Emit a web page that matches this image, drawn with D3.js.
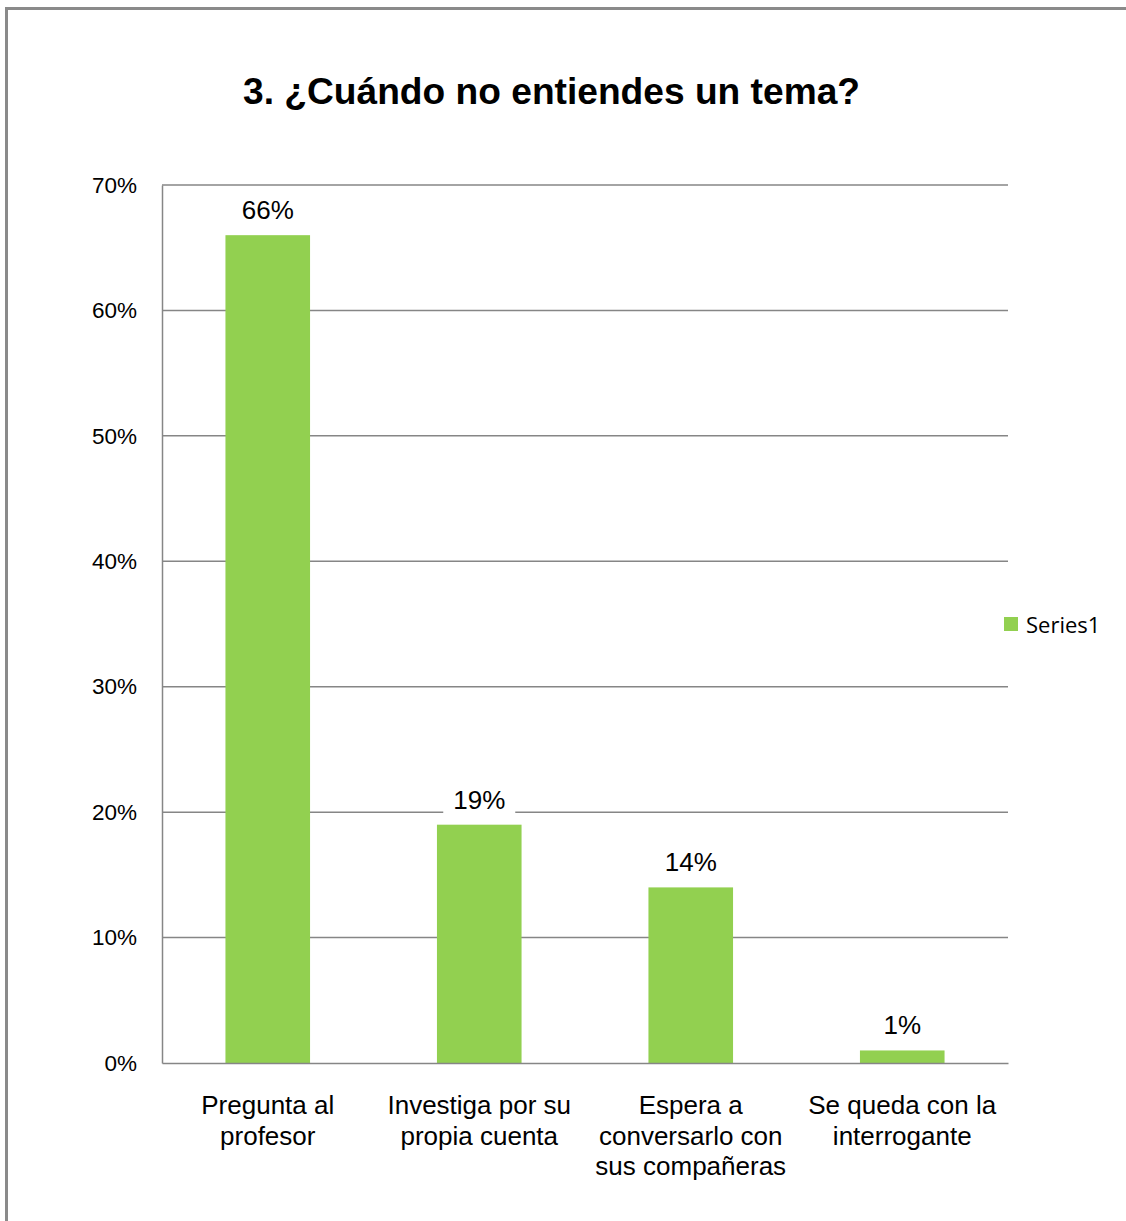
<!DOCTYPE html>
<html><head><meta charset="utf-8">
<script src="https://cdn.jsdelivr.net/npm/d3@7"></script>
<style>body{margin:0;background:#fff}svg{display:block}</style>
</head><body>
<script>
const categories = [["Pregunta al","profesor"],["Investiga por su","propia cuenta"],["Espera a","conversarlo con","sus compañeras"],["Se queda con la","interrogante"]];
const values = [0.66, 0.19, 0.14, 0.01];
const valueLabels = ["66%","19%","14%","1%"];
const yTicks = [0,0.1,0.2,0.3,0.4,0.5,0.6,0.7];
const title = "3. ¿Cuándo no entiendes un tema?";
const seriesName = "Series1";

(function(){
const W=1126,H=1221;
const svg=d3.select("body").append("svg").attr("width",W).attr("height",H);
svg.append("rect").attr("x",0).attr("y",0).attr("width",W).attr("height",H).attr("fill","#fff");
svg.append("rect").attr("x",6.5).attr("y",8.5).attr("width",W+20).attr("height",H+20)
  .attr("fill","none").attr("stroke","#8a8a8a").attr("stroke-width",3);

const pLeft=162,pRight=1008,pTop=185,pBottom=1063;
const x=d3.scaleBand().domain(d3.range(categories.length)).range([pLeft,pRight]).paddingInner(0.6).paddingOuter(0.3);
const y=d3.scaleLinear().domain([0,0.7]).range([pBottom,pTop]);
const grey="#868686";

svg.append("text").attr("x",551.5).attr("y",104).attr("text-anchor","middle")
  .attr("font-family","Liberation Sans, Arial, sans-serif").attr("font-weight","bold")
  .attr("font-size",36).attr("textLength",617).attr("lengthAdjust","spacingAndGlyphs").attr("fill","#000").text(title);

svg.append("g").selectAll("line").data(yTicks.filter(d=>d>0)).join("line")
  .attr("x1",pLeft).attr("x2",pRight).attr("y1",d=>y(d)).attr("y2",d=>y(d))
  .attr("stroke",grey).attr("stroke-width",1.5);

const yAxis=d3.axisLeft(y).tickValues(yTicks).tickFormat(d3.format(".0%")).tickSize(0).tickPadding(25);
const ga=svg.append("g").attr("transform",`translate(${pLeft},0)`).call(yAxis);
ga.select(".domain").attr("stroke",grey).attr("stroke-width",1.5);
ga.selectAll("text").attr("font-family","Liberation Sans, Arial, sans-serif").attr("font-size",22.5).attr("fill","#000");

svg.append("g").selectAll("rect").data(values).join("rect")
  .attr("x",(d,i)=>x(i)).attr("width",x.bandwidth())
  .attr("y",d=>y(d)).attr("height",d=>pBottom-y(d)).attr("fill","#92D050");

const xAxis=d3.axisBottom(x).tickSize(0).tickFormat("");
const gx=svg.append("g").attr("transform",`translate(0,${pBottom})`).call(xAxis);
gx.select(".domain").attr("stroke",grey).attr("stroke-width",1.5);

const cl=svg.append("g").selectAll("text").data(categories).join("text")
  .attr("text-anchor","middle").attr("font-family","Liberation Sans, Arial, sans-serif")
  .attr("font-size",26).attr("fill","#000");
cl.each(function(lines,i){
  const t=d3.select(this);
  lines.forEach((l,j)=>t.append("tspan").attr("x",x(i)+x.bandwidth()/2).attr("y",1114+j*30.5).text(l));
});

const vl=svg.append("g").selectAll("g").data(values).join("g");
vl.append("rect").attr("x",(d,i)=>x(i)+x.bandwidth()/2-36).attr("y",d=>y(d)-42).attr("width",72).attr("height",32).attr("fill","#fff");
vl.append("text").attr("x",(d,i)=>x(i)+x.bandwidth()/2).attr("y",d=>y(d)-16)
  .attr("text-anchor","middle").attr("font-family","Liberation Sans, Arial, sans-serif")
  .attr("font-size",26).attr("fill","#000").text((d,i)=>valueLabels[i]);

const lg=svg.append("g");
lg.append("rect").attr("x",1004).attr("y",617).attr("width",14).attr("height",14).attr("fill","#92D050");
lg.append("text").attr("x",1026).attr("y",633).attr("font-family","Open Sans, Noto Sans, sans-serif")
  .attr("font-size",22).attr("fill","#000").text(seriesName);
})();
</script>
</body></html>
